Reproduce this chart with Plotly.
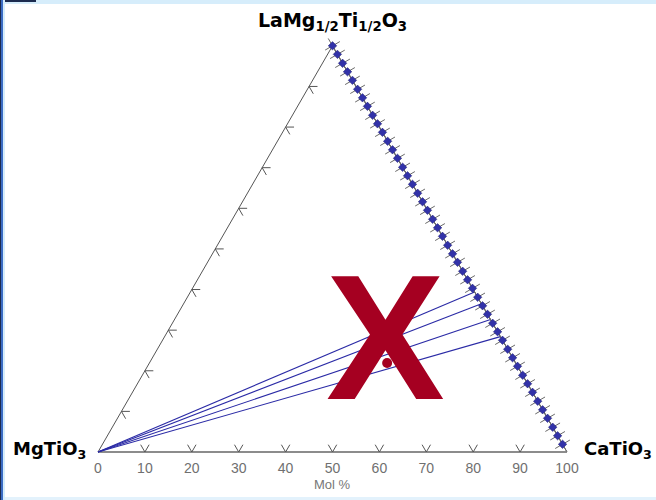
import math
import plotly.graph_objects as go

# ---------------- data ----------------
vertex_names = ["MgTiO<sub>3</sub>", "CaTiO<sub>3</sub>", "LaMg<sub>1/2</sub>Ti<sub>1/2</sub>O<sub>3</sub>"]
bottom_tick_vals = [0, 10, 20, 30, 40, 50, 60, 70, 80, 90, 100]
bottom_tick_text = ["0", "10", "20", "30", "40", "50", "60", "70", "80", "90", "100"]
bottom_chevrons = [10, 20, 30, 40, 50, 60, 70, 80, 90]          # CaTiO3 mol % on the MgTiO3-CaTiO3 edge
left_chevrons = [10, 20, 30, 40, 50, 60, 70, 80, 90]            # LaMg1/2Ti1/2O3 mol % on the MgTiO3-La edge
# compositions (LaMg1/2Ti1/2O3 mol %) marked along the CaTiO3 - LaMg1/2Ti1/2O3 join
join_la = [100.0, 97.9, 95.7, 93.6, 91.5, 89.3, 87.2, 85.1, 82.9, 80.8,
           78.7, 76.5, 74.4, 72.3, 70.1, 68.0, 65.9, 63.7, 61.6, 59.5,
           57.3, 55.2, 53.1, 50.9, 48.8, 46.7, 44.5, 42.4, 40.3, 38.1,
           36.0, 33.9, 31.7, 29.6, 27.5, 25.3, 23.2, 21.1, 18.9, 16.8,
           14.7, 12.5, 10.4, 8.3, 6.1, 4.0, 1.9]
# tie lines from MgTiO3 to join compositions (LaMg1/2Ti1/2O3 mol %)
tie_la = [39.4, 36.5, 32.6, 28.4]
# red compositions (CaTiO3 %, LaMg1/2Ti1/2O3 %)
red_ca = [48.5, 50.7]
red_la = [28.3, 21.9]
red_sizes = [12, 10]
cross_ca, cross_la = 47.1, 28.3   # position of the big red "X"
axis_title = "Mol %"

S3 = math.sqrt(3) / 2


def xy(ca, la):
    """ternary composition (CaTiO3 %, La %) -> cartesian plot coordinates"""
    return ca + la / 2.0, la * S3


def chevrons(points, normal_deg, arm=1.8):
    xs, ys = [], []
    for ca, la in points:
        bx, by = xy(ca, la)
        for k, d in enumerate((normal_deg - 30, normal_deg + 30)):
            ex = bx + arm * math.cos(math.radians(d))
            ey = by + arm * math.sin(math.radians(d))
            if k == 0:
                xs += [ex, bx]
                ys += [ey, by]
            else:
                xs += [ex, None]
                ys += [ey, None]
    return xs, ys


fig = go.Figure()

# triangle edges
vx, vy = zip(*[xy(0, 0), xy(0, 100), xy(100, 0)])
fig.add_trace(go.Scatter(x=[vx[0], vx[1], vx[2]], y=[vy[0], vy[1], vy[2]], mode="lines",
                         line=dict(color="#555555", width=1), hoverinfo="skip"))
fig.add_trace(go.Scatter(x=[vx[0], vx[2]], y=[vy[0], vy[2]], mode="lines",
                         line=dict(color="#8c8c8c", width=2), hoverinfo="skip"))

# chevron ticks
cx, cy = chevrons([(c, 0) for c in bottom_chevrons], 90)
fig.add_trace(go.Scatter(x=cx, y=cy, mode="lines", line=dict(color="#555555", width=1), hoverinfo="skip"))
cx, cy = chevrons([(0, a) for a in left_chevrons], -30)
fig.add_trace(go.Scatter(x=cx, y=cy, mode="lines", line=dict(color="#555555", width=1), hoverinfo="skip"))

# tie lines
tx, ty = [], []
for la in tie_la:
    x0, y0 = xy(0, 0)
    x1, y1 = xy(100 - la, la)
    tx += [x0, x1, None]
    ty += [y0, y1, None]
fig.add_trace(go.Scatter(x=tx, y=ty, mode="lines", line=dict(color="#2b2ba6", width=1.1), hoverinfo="skip"))

# join compositions: hatch + blue markers
jx, jy = zip(*[xy(100 - la, la) for la in join_la])
fig.add_trace(go.Scatter(x=jx, y=jy, mode="markers",
                         marker=dict(symbol="x-thin", size=12, angle=15,
                                     line=dict(color="#6a6a6a", width=1)), hoverinfo="skip"))
fig.add_trace(go.Scatter(x=jx, y=jy, mode="markers",
                         marker=dict(symbol="diamond", size=6.5, color="#3232a8",
                                     line=dict(color="#1e1e6e", width=0.5)), hoverinfo="skip"))

# red compositions
rx, ry = zip(*[xy(c, a) for c, a in zip(red_ca, red_la)])
fig.add_trace(go.Scatter(x=rx, y=ry, mode="markers",
                         marker=dict(size=red_sizes, color="#a50021", opacity=1,
                                     line=dict(width=0)), hoverinfo="skip"))

# big red X
xc, yc = xy(cross_ca, cross_la)
annotations = [
    dict(x=xc, y=yc, xref="x", yref="y", text="<b>X</b>", showarrow=False,
         font=dict(family="Liberation Sans", size=178, color="#a50021"),
         xanchor="center", yanchor="middle"),
]

# vertex labels
lab_font = dict(family="DejaVu Sans", size=18, color="#000000")
annotations += [
    dict(x=-2.2, y=0.5, xref="x", yref="y", text="<b>" + vertex_names[0] + "</b>", showarrow=False,
         font=lab_font, xanchor="right", yanchor="middle"),
    dict(x=103.3, y=0.5, xref="x", yref="y", text="<b>" + vertex_names[1] + "</b>", showarrow=False,
         font=lab_font, xanchor="left", yanchor="middle"),
    dict(x=50, y=91.8, xref="x", yref="y", text="<b>" + vertex_names[2] + "</b>", showarrow=False,
         font=dict(family="DejaVu Sans", size=19, color="#000000"), xanchor="center", yanchor="middle"),
    dict(x=50, y=-7.0, xref="x", yref="y", text=axis_title, showarrow=False,
         font=dict(family="Liberation Sans", size=13, color="#777777"),
         xanchor="center", yanchor="middle"),
]

# page frame
shapes = [
    dict(type="rect", xref="paper", yref="paper", x0=0, x1=1, y0=1 - 4 / 500, y1=1,
         fillcolor="#d6edfb", line=dict(width=0), layer="below"),
    dict(type="rect", xref="paper", yref="paper", x0=0, x1=36 / 656, y0=1 - 2 / 500, y1=1,
         fillcolor="#1c2b4f", line=dict(width=0), layer="below"),
    dict(type="rect", xref="paper", yref="paper", x0=0, x1=1, y0=0, y1=3 / 500,
         fillcolor="#e3f2fc", line=dict(width=0), layer="below"),
    dict(type="rect", xref="paper", yref="paper", x0=0, x1=5 / 656, y0=0, y1=1,
         fillcolor="#d6edfb", line=dict(width=0), layer="below"),
    dict(type="rect", xref="paper", yref="paper", x0=0, x1=3 / 656, y0=0, y1=1,
         fillcolor="#3b6cc4", line=dict(width=0), layer="below"),
    dict(type="rect", xref="paper", yref="paper", x0=0, x1=1 / 656, y0=0, y1=1,
         fillcolor="#1c2b4f", line=dict(width=0), layer="below"),
]

PX = 4.69
fig.update_layout(
    width=656, height=500,
    margin=dict(l=0, r=0, t=0, b=0),
    paper_bgcolor="white", plot_bgcolor="white",
    showlegend=False,
    annotations=annotations,
    shapes=shapes,
    xaxis=dict(range=[-98 / PX, (656 - 98) / PX], anchor="free", position=48 / 500,
               tickvals=bottom_tick_vals, ticktext=bottom_tick_text,
               ticks="outside", ticklen=3, tickcolor="rgba(0,0,0,0)",
               showline=False, showgrid=False, zeroline=False,
               tickfont=dict(family="Liberation Sans", size=14, color="#707070"),
               fixedrange=True),
    yaxis=dict(range=[(452 - 500) / PX, 452 / PX], visible=False, showgrid=False,
               zeroline=False, fixedrange=True),
)

fig.write_html("out.html")
